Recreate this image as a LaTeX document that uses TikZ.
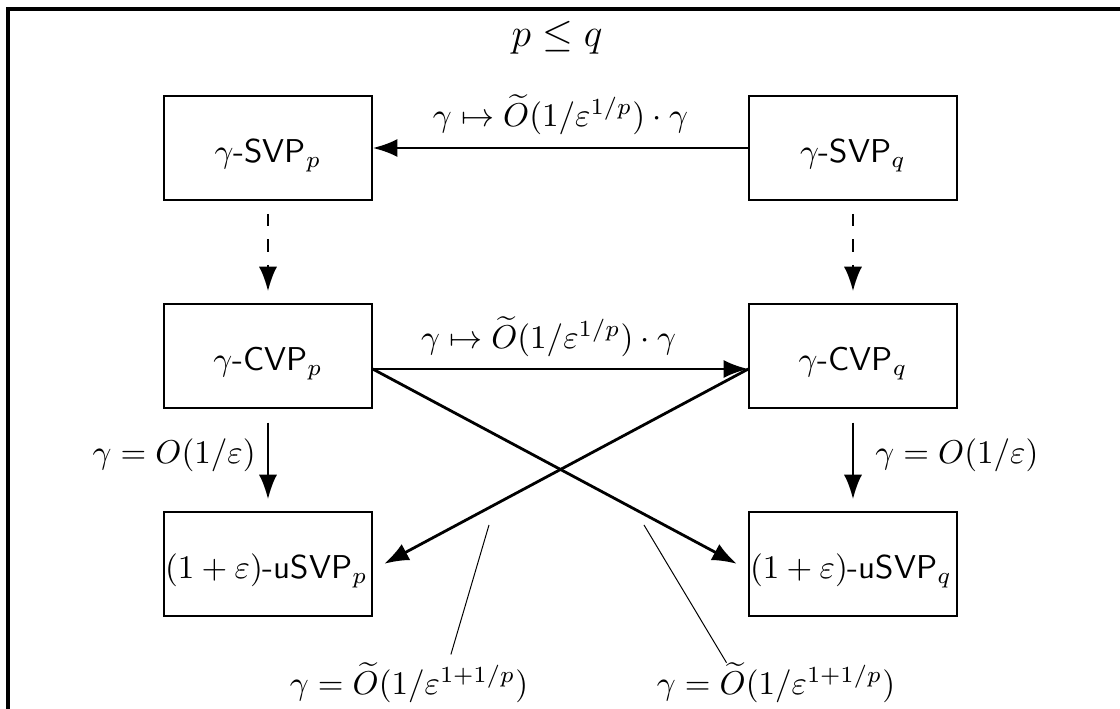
\documentclass[tikz,border=0pt]{standalone}
\usetikzlibrary{arrows.meta}
\begin{document}
\begin{tikzpicture}[x=0.303pt,y=-0.303pt,
  box/.style={draw, line width=0.45pt, minimum width=63pt, minimum height=31.5pt,
    inner xsep=0pt, inner ysep=0pt, text height=20.25pt, text depth=11.25pt},
  lbox/.style={box, text width=62.4pt, align=left},
  arr/.style={line width=0.85pt, -{Latex[length=7.5pt,width=5.5pt]}},
  ptr/.style={line width=0.3pt},
  frame/.style={line width=0.95pt}]
\useasboundingbox (0,0) rectangle (1120,709);
\draw[frame] (8,730) -- (8,9) -- (1140,9);

\node (title) at (557,38) {\large $p \le q$};

\node[box] (svpp) at (268,148) {$\gamma$\textsf{-SVP}$_p$};
\node[box] (svpq) at (853,148) {$\gamma$\textsf{-SVP}$_q$};
\node[box] (cvpp) at (268,356) {$\gamma$\textsf{-CVP}$_p$};
\node[box] (cvpq) at (853,356) {$\gamma$\textsf{-CVP}$_q$};
\node[lbox] (usvpp) at (268,564) {$(1+\varepsilon)$\textsf{-uSVP}$_p$};
\node[lbox] (usvpq) at (853,564) {$(1+\varepsilon)$\textsf{-uSVP}$_q$};

\draw[arr] (svpq.west) -- (svpp.east)
  node[midway, yshift=10pt] {$\gamma \mapsto \widetilde{O}(1/\varepsilon^{1/p}) \cdot \gamma$};
\draw[arr, dash pattern=on 3.7pt off 4pt, shorten <=4pt, shorten >=3.6pt] (svpp.south) -- (cvpp.north);
\draw[arr, dash pattern=on 3.7pt off 4pt, shorten <=4pt, shorten >=3.6pt] (svpq.south) -- (cvpq.north);

\draw[arr] ([yshift=-3.94pt]cvpp.east) -- ([yshift=-3.94pt]cvpq.west)
  node[midway, xshift=-3.6pt, yshift=9.7pt] {$\gamma \mapsto \widetilde{O}(1/\varepsilon^{1/p}) \cdot \gamma$};

\draw[arr, shorten <=4.2pt, shorten >=3.6pt] (cvpp.south) -- (usvpp.north)
  node[midway, left, yshift=1.5pt] {$\gamma = O(1/\varepsilon)$};
\draw[arr, shorten <=4.2pt, shorten >=3.6pt] (cvpq.south) -- (usvpq.north)
  node[midway, right, xshift=3pt, yshift=1.5pt] {$\gamma = O(1/\varepsilon)$};

\draw[arr, shorten >=3.9pt] ([yshift=-3.94pt]cvpp.east) -- ([yshift=-1.8pt]usvpq.west);
\draw[arr, shorten >=3.9pt] ([yshift=-3.94pt]cvpq.west) -- ([yshift=-1.8pt]usvpp.east);

\node (lblL) at (409,683) {$\gamma = \widetilde{O}(1/\varepsilon^{1+1/p})$};
\node (lblR) at (776,683) {$\gamma = \widetilde{O}(1/\varepsilon^{1+1/p})$};
\coordinate (ptL) at (489,525);
\coordinate (ptR) at (644,525);
\draw[ptr] (ptL) -- ([xshift=12.7pt,yshift=-1pt]lblL.north);
\draw[ptr] (ptR) -- ([xshift=-15pt,yshift=-3.5pt]lblR.north);
\end{tikzpicture}
\end{document}
